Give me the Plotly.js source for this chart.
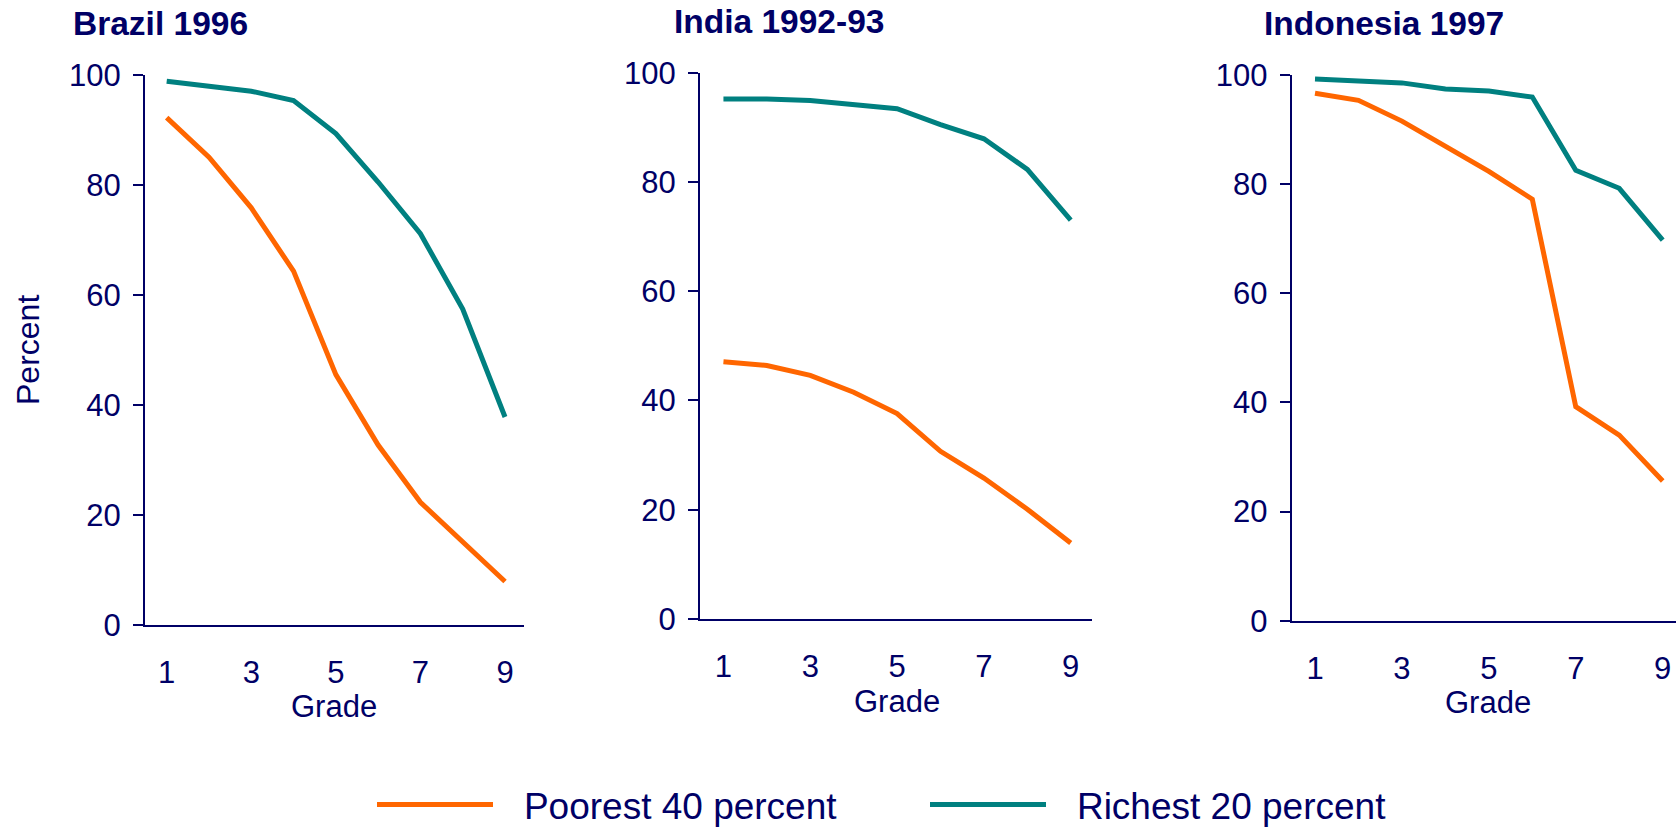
<!DOCTYPE html>
<html><head><meta charset="utf-8">
<script src="https://cdn.plot.ly/plotly-3.0.1.min.js"></script>
<style>html,body{margin:0;padding:0;background:#fff;overflow:hidden}#chart{width:1676px;height:829px}</style>
</head><body><div id="chart"></div>
<script>
const grades = [1, 2, 3, 4, 5, 6, 7, 8, 9];
const panelTitles = ["Brazil 1996", "India 1992-93", "Indonesia 1997"];
const seriesNames = ["Poorest 40 percent", "Richest 20 percent"];
const brazilPoorest = [92.2, 85.0, 75.8, 64.3, 45.5, 32.7, 22.3, 15.0, 7.9];
const brazilRichest = [98.8, 98.0, 97.0, 95.3, 89.3, 80.5, 71.1, 57.4, 37.8];
const indiaPoorest = [47.1, 46.4, 44.6, 41.5, 37.6, 30.7, 25.8, 20.1, 13.9];
const indiaRichest = [95.2, 95.2, 94.9, 94.1, 93.4, 90.5, 87.9, 82.3, 73.0];
const indonesiaPoorest = [96.6, 95.3, 91.5, 86.9, 82.3, 77.2, 39.2, 34.0, 25.6];
const indonesiaRichest = [99.2, 98.8, 98.5, 97.4, 97.0, 95.9, 82.5, 79.2, 69.7];
const xTickVals = [1, 3, 5, 7, 9];
const yTickVals = [0, 20, 40, 60, 80, 100];
const xAxisTitle = "Grade";
const yAxisTitle = "Percent";

const W = 1676, H = 829;
const navy = "#000066";
const orange = "#FF6600";
const teal = "#008080";
const FONT = "Liberation Sans, Arial, Helvetica, sans-serif";
const legendPad = "\u2002\u2009";

const panels = [
  {poor: brazilPoorest, rich: brazilRichest, xd: [145, 524.3], yd: [74.7, 625], xr: [0.487, 9.456], tx: 71, ty: 23.5, gx: 334.3, gy: 706.5},
  {poor: indiaPoorest, rich: indiaRichest, xd: [700, 1092], yd: [72.7, 619], xr: [0.46, 9.49], tx: 672, ty: 21.4, gx: 896.7, gy: 701},
  {poor: indonesiaPoorest, rich: indonesiaRichest, xd: [1291.7, 1676], yd: [74.7, 620.7], xr: [0.464, 9.306], tx: 1262, ty: 23.5, gx: 1488.3, gy: 702.5}
];

const data = [];
const layout = {
  width: W, height: H,
  margin: {l: 0, r: 0, t: 0, b: 0, autoexpand: false},
  paper_bgcolor: "#fff", plot_bgcolor: "#fff",
  font: {family: FONT, color: navy, size: 31},
  showlegend: true,
  legend: {
    orientation: "h", xref: "container", yref: "container",
    x: 372 / W, y: (H - 805) / H, xanchor: "left", yanchor: "middle",
    font: {family: FONT, size: 37, color: navy},
    itemwidth: 116, entrywidth: 422, entrywidthmode: "pixels",
    bgcolor: "rgba(0,0,0,0)"
  },
  annotations: []
};

panels.forEach((p, i) => {
  const n = i === 0 ? "" : String(i + 1);
  data.push({x: grades, y: p.poor, xaxis: "x" + n, yaxis: "y" + n, type: "scatter", mode: "lines",
    name: legendPad + seriesNames[0], showlegend: i === 0, line: {color: orange, width: 5}, hoverinfo: "skip"});
  data.push({x: grades, y: p.rich, xaxis: "x" + n, yaxis: "y" + n, type: "scatter", mode: "lines",
    name: legendPad + seriesNames[1], showlegend: i === 0, line: {color: teal, width: 5}, hoverinfo: "skip"});
  layout["xaxis" + n] = {
    domain: [p.xd[0] / W, p.xd[1] / W], range: p.xr, anchor: "y" + n,
    tickvals: xTickVals, ticks: "", showline: true, linecolor: navy, linewidth: 2,
    showgrid: false, zeroline: false, fixedrange: true,
    tickfont: {family: FONT, size: 31, color: navy}, ticklabelstandoff: 19
  };
  layout["yaxis" + n] = {
    domain: [(H - p.yd[1]) / H, (H - p.yd[0]) / H], range: [0, 100], anchor: "x" + n,
    tickvals: yTickVals, ticks: "outside", ticklen: 10, tickwidth: 2, tickcolor: navy,
    showline: true, linecolor: navy, linewidth: 2, showgrid: false, zeroline: false, fixedrange: true,
    tickfont: {family: FONT, size: 31, color: navy}, ticklabelstandoff: 6,
    title: i === 0 ? {text: yAxisTitle, font: {family: FONT, size: 32, color: navy}, standoff: 20} : {text: ""}
  };
  layout.annotations.push({
    text: "<b>" + panelTitles[i] + "</b>", xref: "paper", yref: "paper",
    x: p.tx / W, y: (H - p.ty) / H, xanchor: "left", yanchor: "middle", showarrow: false,
    font: {family: FONT, size: 33.5, color: navy}
  });
  layout.annotations.push({
    text: xAxisTitle, xref: "paper", yref: "paper",
    x: p.gx / W, y: (H - p.gy) / H, xanchor: "center", yanchor: "middle", showarrow: false,
    font: {family: FONT, size: 31, color: navy}
  });
});

Plotly.newPlot("chart", data, layout, {staticPlot: true, displayModeBar: false});
</script>
</body></html>
